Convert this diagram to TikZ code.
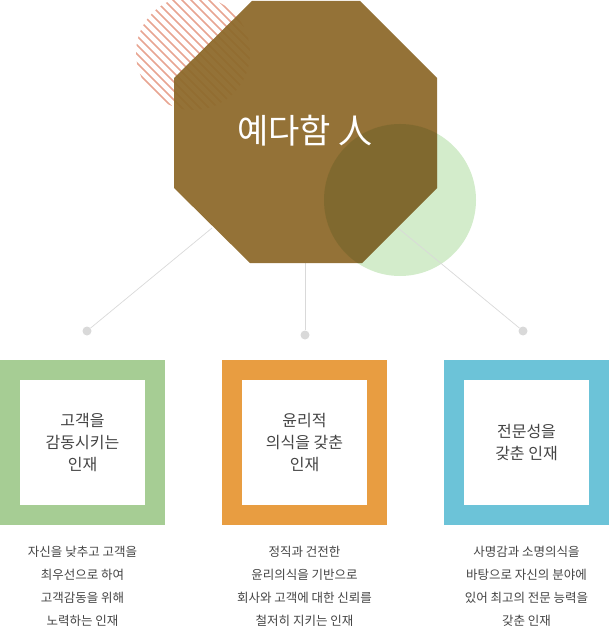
\documentclass[tikz,border=0pt]{standalone}
\usepackage{fontspec}
\setmainfont{Noto Sans CJK KR}
\usetikzlibrary{patterns}
\definecolor{octbrown}{HTML}{8E6A2C}
\definecolor{lightgreen}{HTML}{D3ECCB}
\definecolor{framegreen}{HTML}{A6CD94}
\definecolor{frameorange}{HTML}{E89D41}
\definecolor{frameblue}{HTML}{6CC3D8}
\definecolor{txtgray}{HTML}{444444}
\definecolor{hatchred}{HTML}{E8A592}

\begin{document}
\begin{tikzpicture}[x=1pt,y=-1pt,
    frame/.style={minimum size=145pt,inner sep=0pt,line width=20pt},
    boxtext/.style={text=txtgray,font=\fontsize{16}{22}\selectfont,align=center},
    desc/.style={text=txtgray,font=\fontsize{12.5}{23}\selectfont,align=center,anchor=north},
    link/.style={draw=black!15,line width=0.7pt},
    dot/.style={circle,fill=black!15,inner sep=0pt,minimum size=9pt}]
  \useasboundingbox (0,0) rectangle (609,631);

  % decorative circles
  \begin{scope}
    \clip (193,53) circle (57);
    \foreach \k in {-120,-111,...,120}
      \draw[hatchred,line width=1.5pt] (193+\k-80,53-80) -- (193+\k+80,53+80);
  \end{scope}
  \fill[lightgreen] (400,200) circle (76);

  % connectors to dots
  \coordinate (octleft) at (212,228);
  \coordinate (octmid) at (305,263);
  \coordinate (octright) at (398,228);
  \node[dot] (dotleft) at (87,331) {};
  \node[dot] (dotmid) at (305,335) {};
  \node[dot] (dotright) at (523,331) {};
  \draw[link] (octleft) -- (dotleft);
  \draw[link] (octmid) -- (dotmid);
  \draw[link] (octright) -- (dotright);

  % octagon
  \path[fill=octbrown,fill opacity=0.95] (252,1) -- (360,1) -- (437,78) -- (437,188)
    -- (362,263) -- (250,263) -- (174,188) -- (174,78) -- cycle;
  \begin{scope}
    \clip (252,1) -- (360,1) -- (437,78) -- (437,188)
      -- (362,263) -- (250,263) -- (174,188) -- (174,78) -- cycle;
    \fill[olive!60!black,opacity=0.35] (400,200) circle (76);
  \end{scope}
  \node[text=white,font=\fontsize{34}{40}\selectfont] (title) at (305,131) {예다함 人};

  % frames
  \node[frame,draw=framegreen] (care) at (82.5,442.5) {};
  \node[frame,draw=frameorange] (ethic) at (304.5,442.5) {};
  \node[frame,draw=frameblue] (expert) at (526.5,442.5) {};
  \node[boxtext] at (care) {고객을\\감동시키는\\인재};
  \node[boxtext] at (ethic) {윤리적\\의식을 갖춘\\인재};
  \node[boxtext] at (expert) {전문성을\\갖춘 인재};

  % descriptions
  \node[desc] (caredesc) at (82.5,543) {자신을 낮추고 고객을\\최우선으로 하여\\고객감동을 위해\\노력하는 인재};
  \node[desc] (ethicdesc) at (304.5,543) {정직과 건전한\\윤리의식을 기반으로\\회사와 고객에 대한 신뢰를\\철저히 지키는 인재};
  \node[desc] (expertdesc) at (526.5,543) {사명감과 소명의식을\\바탕으로 자신의 분야에\\있어 최고의 전문 능력을\\갖춘 인재};
\end{tikzpicture}
\end{document}
